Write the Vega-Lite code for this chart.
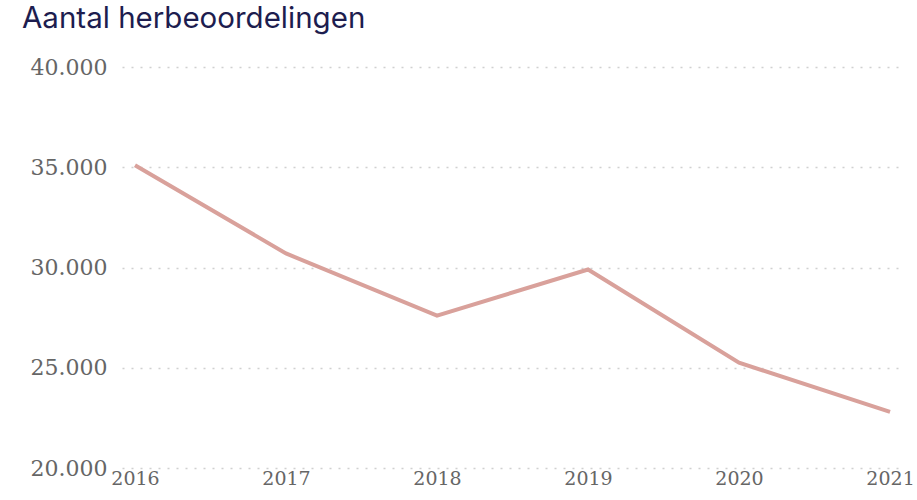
{
  "$schema": "https://vega.github.io/schema/vega-lite/v6.json",
  "autosize": "none",
  "width": 778,
  "height": 401,
  "padding": {"left": 122, "top": 67, "right": 17, "bottom": 32},
  "background": "white",
  "title": {
    "text": "Aantal herbeoordelingen",
    "anchor": "start",
    "frame": "group",
    "dx": -100,
    "offset": -1,
    "baseline": "alphabetic",
    "font": "Inter",
    "fontSize": 29.5,
    "fontWeight": "normal",
    "color": "#1d1d4f"
  },
  "data": {
    "values": [
      {"jaar": 2016, "aantal": 35100},
      {"jaar": 2017, "aantal": 30700},
      {"jaar": 2018, "aantal": 27600},
      {"jaar": 2019, "aantal": 29900},
      {"jaar": 2020, "aantal": 25250},
      {"jaar": 2021, "aantal": 22800}
    ]
  },
  "mark": {"type": "line", "color": "#d9a19b", "strokeWidth": 4},
  "encoding": {
    "x": {
      "field": "jaar",
      "type": "quantitative",
      "scale": {"domain": [2015.914, 2021.066], "nice": false, "zero": false},
      "axis": {
        "title": null,
        "values": [2016, 2017, 2018, 2019, 2020, 2021],
        "format": "d",
        "grid": false,
        "domain": false,
        "ticks": false,
        "labelPadding": 10,
        "labelFont": "DejaVu Serif",
        "labelFontSize": 19,
        "labelColor": "#666666",
        "labelFlush": false,
        "labelOverlap": false,
        "labelBaseline": "middle"
      }
    },
    "y": {
      "field": "aantal",
      "type": "quantitative",
      "scale": {"domain": [20000, 40000], "nice": false, "zero": false},
      "axis": {
        "title": null,
        "values": [20000, 25000, 30000, 35000, 40000],
        "labelExpr": "replace(format(datum.value, ',d'), ',', '.')",
        "grid": true,
        "gridColor": "#d0d0d0",
        "gridDash": [2, 7],
        "gridWidth": 1.5,
        "domain": false,
        "ticks": false,
        "labelPadding": 15,
        "labelFont": "DejaVu Serif",
        "labelFontSize": 22,
        "labelColor": "#666666"
      }
    }
  },
  "config": {"view": {"stroke": null}}
}
